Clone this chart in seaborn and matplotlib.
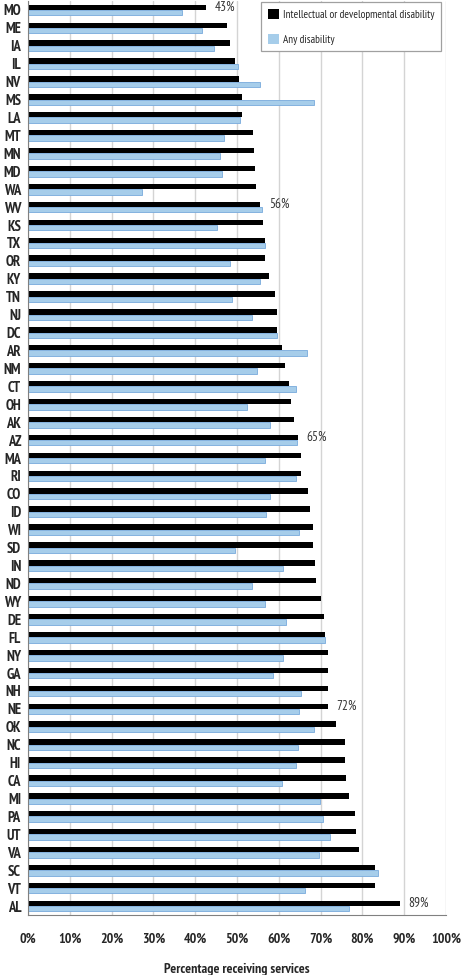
import matplotlib
matplotlib.use("Agg")
import matplotlib.pyplot as plt
import matplotlib.patches as mpatches
from matplotlib.ticker import FuncFormatter
import seaborn as sns
import pandas as pd
import numpy as np

states = ["MO", "ME", "IA", "IL", "NV", "MS", "LA", "MT", "MN", "MD", "WA", "WV", "KS", "TX",
          "OR", "KY", "TN", "NJ", "DC", "AR", "NM", "CT", "OH", "AK", "AZ", "MA", "RI",
          "CO", "ID", "WI", "SD", "IN", "ND", "WY", "DE", "FL", "NY", "GA", "NH", "NE",
          "OK", "NC", "HI", "CA", "MI", "PA", "UT", "VA", "SC", "VT", "AL"]
idd = [42.6, 47.5, 48.3, 49.6, 50.4, 51.2, 51.3, 53.9, 54.0, 54.2, 54.5, 55.6, 56.3, 56.7,
       56.7, 57.6, 59.2, 59.5, 59.6, 60.7, 61.5, 62.5, 62.8, 63.6, 64.6, 65.2, 65.4,
       67.0, 67.5, 68.2, 68.2, 68.6, 68.9, 70.2, 70.9, 71.1, 71.7, 71.7, 71.7, 71.7,
       73.8, 75.9, 75.9, 76.1, 76.7, 78.2, 78.5, 79.2, 82.9, 82.9, 89.0]
anyd = [36.8, 41.7, 44.5, 50.3, 55.5, 68.5, 50.8, 46.9, 46.0, 46.3, 27.3, 56.0, 45.2, 56.7,
        48.4, 55.5, 48.9, 53.5, 59.5, 66.7, 54.7, 64.2, 52.4, 57.8, 64.4, 56.7, 64.2,
        57.8, 57.0, 64.9, 49.6, 61.0, 53.5, 56.7, 61.7, 71.0, 61.0, 58.6, 65.4, 64.9,
        68.5, 64.7, 64.2, 60.7, 69.9, 70.6, 72.2, 69.6, 83.7, 66.2, 76.7]
series_names = ["Intellectual or developmental disability", "Any disability"]
annotated = {"MO": "43%", "WV": "56%", "AZ": "65%", "NE": "72%", "AL": "89%"}
xticks = list(range(0, 101, 10))

df = pd.DataFrame({
    "state": states * 2,
    "value": idd + anyd,
    "series": [series_names[0]] * len(states) + [series_names[1]] * len(states),
})

black = "#000000"
blue_face = "#A6CDEA"
blue_edge = "#78AADC"

sns.set_style("white")
plt.rcParams["font.family"] = ["PT Sans Narrow", "DejaVu Sans"]

fig = plt.figure(figsize=(4.62, 9.75), dpi=100)
ax = fig.add_axes([28 / 462, 1 - 915 / 975, (446 - 28) / 462, (915 - 1) / 975])

sns.barplot(data=df, x="value", y="state", hue="series", order=states,
            hue_order=series_names, palette=[black, blue_face], width=0.6,
            dodge=True, orient="h", ax=ax, legend=False, saturation=1)

n = len(states)
for i, p in enumerate(ax.patches[:2 * n]):
    if i < n:
        p.set_edgecolor("none")
    else:
        p.set_edgecolor(blue_edge)
        p.set_linewidth(0.6)

ax.set_xlim(0, 100)
ax.set_ylim(n - 0.5, -0.5)
ax.set_xticks(xticks)
ax.xaxis.set_major_formatter(FuncFormatter(lambda v, _: f"{int(v)}%"))
ax.grid(axis="x", color="#D4D4D4", linewidth=1.0)
ax.grid(axis="y", visible=False)
ax.set_axisbelow(True)

ax.set_yticks(range(n))
ax.set_yticklabels(states)
ax.set_yticks(np.arange(-0.5, n, 1.0), minor=True)
ax.tick_params(axis="y", which="major", length=0, pad=5)
ax.tick_params(axis="y", which="minor", length=3, color="#808080", width=0.8)
ax.tick_params(axis="x", which="major", length=3, color="#808080", width=0.8, pad=10)

for lab in ax.get_yticklabels():
    lab.set_fontweight("bold")
    lab.set_fontsize(10.5)
for lab in ax.get_xticklabels():
    lab.set_fontweight("bold")
    lab.set_fontsize(10)

ax.set_ylabel("")
ax.set_xlabel("Percentage receiving services", fontweight="bold", fontsize=10, labelpad=12)

for s in ["top", "right"]:
    ax.spines[s].set_visible(False)
ax.spines["left"].set_color("#808080")
ax.spines["bottom"].set_color("#808080")
ax.spines["left"].set_linewidth(0.8)
ax.spines["bottom"].set_linewidth(0.8)

for st, txt in annotated.items():
    i = states.index(st)
    ax.annotate(txt, xy=(idd[i], i - 0.15), xytext=(6, 0), textcoords="offset points",
                va="center", ha="left", fontsize=9.5, color="#333333")

handles = [mpatches.Patch(facecolor=black, edgecolor="none"),
           mpatches.Patch(facecolor=blue_face, edgecolor="none")]
leg = ax.legend(handles, series_names, loc="upper right", bbox_to_anchor=(0.99, 1.0),
                frameon=True, fancybox=False, edgecolor="#A0A0A0", fontsize=8,
                handlelength=1.05, handleheight=1.05, labelspacing=1.25,
                borderpad=0.6, handletextpad=0.3, borderaxespad=0.1)
leg.get_frame().set_linewidth(0.9)
leg.get_frame().set_facecolor("white")
leg.get_frame().set_alpha(1.0)

fig.savefig("out.png", dpi=100)
